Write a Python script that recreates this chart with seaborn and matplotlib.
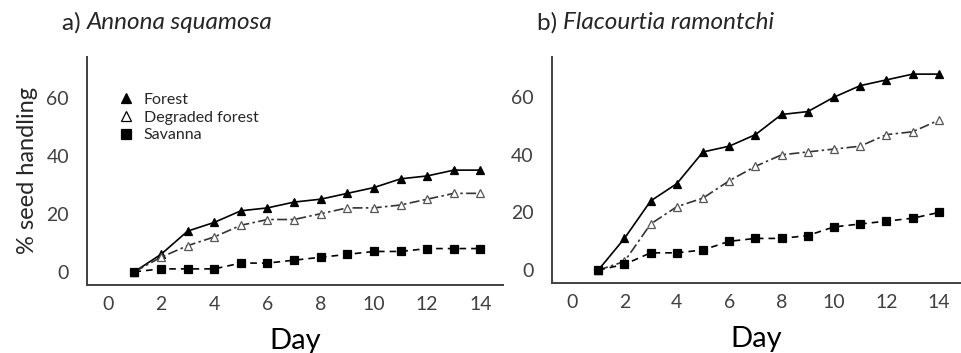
import matplotlib
matplotlib.use("Agg")
import matplotlib.pyplot as plt
import seaborn as sns
import pandas as pd

days = list(range(1, 15))
a_forest = [0, 6, 14, 17, 21, 22, 24, 25, 27, 29, 32, 33, 35, 35]
a_degraded = [0, 5, 9, 12, 16, 18, 18, 20, 22, 22, 23, 25, 27, 27]
a_savanna = [0, 1, 1, 1, 3, 3, 4, 5, 6, 7, 7, 8, 8, 8]
b_forest = [0, 11, 24, 30, 41, 43, 47, 54, 55, 60, 64, 66, 68, 68]
b_degraded = [0, 3, 16, 22, 25, 31, 36, 40, 41, 42, 43, 47, 48, 52]
b_savanna = [0, 2, 6, 6, 7, 10, 11, 11, 12, 15, 16, 17, 18, 20]
series_names = ["Forest", "Degraded forest", "Savanna"]
xticks = [0, 2, 4, 6, 8, 10, 12, 14]
yticks = [0, 20, 40, 60]

sns.set_theme(style="white")
plt.rcParams['font.family'] = ['Lato', 'DejaVu Sans']

fig = plt.figure(figsize=(9.61, 3.53), dpi=100)
axa = fig.add_axes([0.0905, 0.193, 0.433, 0.646])
axb = fig.add_axes([0.574, 0.198, 0.426, 0.641])

styles = {
    "Forest": dict(marker="^", color="black", mfc="black", mec="black", dashes=(None, None)),
    "Degraded forest": dict(marker="^", color="#333333", mfc="white", mec="#555555", dashes=(6, 2, 1.5, 2)),
    "Savanna": dict(marker="s", color="black", mfc="black", mec="black", dashes=(4, 3)),
}

def draw(ax, vals, legend):
    handles = []
    for name, v in zip(series_names, vals):
        st = styles[name]
        df = pd.DataFrame({"Day": days, "val": v})
        sns.lineplot(data=df, x="Day", y="val", ax=ax, color=st["color"], lw=1.2,
                     marker=st["marker"], markersize=6, markerfacecolor=st["mfc"],
                     markeredgecolor=st["mec"], markeredgewidth=0.9)
        ln = ax.lines[-1]
        if st["dashes"][0] is not None:
            ln.set_dashes(st["dashes"])
        handles.append(plt.Line2D([], [], ls="none", marker=st["marker"], markersize=7,
                                  mfc=st["mfc"], mec=st["mec"] if name != "Degraded forest" else "black",
                                  mew=0.9, label=name))
    ax.set_xlim(-0.78, 14.85)
    ax.set_ylim(-4.5, 74)
    ax.set_xticks(xticks)
    ax.set_yticks(yticks)
    ax.tick_params(axis="both", length=0, labelsize=14, labelcolor="#404040")
    ax.tick_params(axis="x", pad=8)
    ax.tick_params(axis="y", pad=13)
    for s in ["top", "right"]:
        ax.spines[s].set_visible(False)
    for s in ["left", "bottom"]:
        ax.spines[s].set_color("#404040")
        ax.spines[s].set_linewidth(1.4)
    ax.set_xlabel("Day", fontsize=21, labelpad=11, color="black")
    ax.set_ylabel("")
    if legend:
        ax.legend(handles=handles, loc="upper left", bbox_to_anchor=(0.06, 0.87), frameon=False,
                  fontsize=11.5, handlelength=1.0, handletextpad=0.6, labelspacing=0.22,
                  borderaxespad=0)

draw(axa, [a_forest, a_degraded, a_savanna], True)
draw(axb, [b_forest, b_degraded, b_savanna], False)

axa.set_ylabel("% seed handling", fontsize=17, labelpad=6)

fig.text(0.0645, 0.935, "a) ", fontsize=17.5, va="center", ha="left")
fig.text(0.0905, 0.935, "Annona squamosa", fontsize=17.5, va="center", ha="left", style="italic")
fig.text(0.559, 0.935, "b) ", fontsize=17.5, va="center", ha="left")
fig.text(0.586, 0.935, "Flacourtia ramontchi", fontsize=17.5, va="center", ha="left", style="italic")

fig.savefig("out.png", dpi=100, facecolor="white")
